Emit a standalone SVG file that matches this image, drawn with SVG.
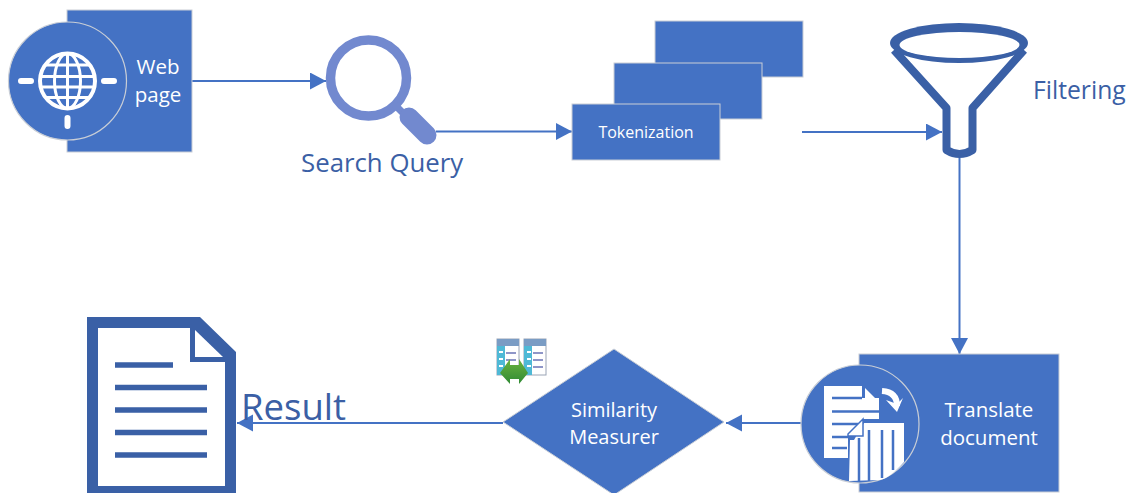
<svg xmlns="http://www.w3.org/2000/svg" width="1130" height="493" viewBox="0 0 1130 493">
<defs>
<marker id="arr" markerUnits="userSpaceOnUse" markerWidth="16" markerHeight="18" refX="16" refY="8.5" orient="auto"><path d="M0 0L16 8.500L0 17Z" fill="#4472c4"/></marker>
<linearGradient id="gr" x1="0" y1="0" x2="0" y2="1"><stop offset="0" stop-color="#6cb33f"/><stop offset="1" stop-color="#2f8a34"/></linearGradient>
</defs>
<style>
text{font-family:"Open Sans","Noto Sans","Liberation Sans",sans-serif}
.box{fill:#4472c4;stroke:#c9ced6;stroke-width:1}
.circ{fill:#4472c4;stroke:#c9ced6;stroke-width:1.2}
.w{fill:#fff;text-anchor:middle}
.d{fill:#3b5fa5}
.conn{fill:none;stroke:#4472c4;stroke-width:2;marker-end:url(#arr)}
.ic{fill:none;stroke:#fff}
.doc{fill:#fff}
.dk{fill:none;stroke:#3a60a6}
.tb{fill:#4fb9d6}
.hd{fill:#7a9cc4}
</style>
<g id="connectors">
<path class="conn" d="M191 81H326"/>
<path class="conn" d="M436 131.500H572"/>
<path class="conn" d="M802 132H942"/>
<path class="conn" d="M959.500 158V354"/>
<path class="conn" d="M802 423H726"/>
<path class="conn" d="M503 423H237"/>
</g>
<g id="node-webpage">
<rect class="box" x="67" y="10" width="125" height="142"/>
<circle class="circ" cx="67.500" cy="81" r="59"/>
<g class="ic" stroke-width="3">
<circle cx="67.500" cy="81" r="27.500" stroke-width="4"/>
<ellipse cx="67.500" cy="81" rx="13" ry="27.500"/>
<path d="M67.500 53.500V108.500M40 76.500H95M40 87H95M45 65H90M45 97.500H90"/>
</g>
<g class="ic" stroke-width="6" stroke-linecap="round">
<path d="M21 81H31M104 81H114M67.500 118V126"/>
</g>
<text class="w" x="158" y="74" font-size="20.500">Web</text>
<text class="w" x="158" y="102" font-size="20.500">page</text>
</g>
<g id="node-search">
<circle cx="368.500" cy="78" r="38" fill="none" stroke="#7289cf" stroke-width="9.500"/>
<path d="M395 105L405 115" stroke="#7289cf" stroke-width="7" fill="none"/>
<path d="M409 117L427 135" stroke="#7289cf" stroke-width="19" stroke-linecap="round" fill="none"/>
<text class="d" x="301" y="172" font-size="25.800">Search Query</text>
</g>
<g id="node-tokenization">
<rect class="box" x="655" y="21" width="148" height="56"/>
<rect class="box" x="614" y="63" width="148" height="56"/>
<rect class="box" x="572" y="104" width="148" height="56"/>
<text class="w" x="646" y="138" font-size="16">Tokenization</text>
</g>
<g id="node-filtering">
<path class="dk" stroke-width="8" stroke-linejoin="round" d="M894 50L946.500 108V150Q959.500 158 972.500 150V108L1024 50"/>
<ellipse cx="959" cy="43" rx="69" ry="20" fill="#3a60a6"/>
<ellipse cx="959.500" cy="45" rx="60" ry="13" fill="#fff"/>
<text class="d" x="1033" y="99" font-size="24.700">Filtering</text>
</g>
<g id="node-translate">
<rect class="box" x="859" y="354" width="200" height="138"/>
<circle class="circ" cx="860" cy="424" r="59"/>
<path class="doc" d="M824 386H862V398H879V419H863L848 434V458H824Z"/>
<path d="M832 398H862M832 411.500H879M832 424H858M832 437H849M832 448H847" stroke="#4472c4" stroke-width="2.500"/>
<path class="doc" d="M865 388L877 400H865Z"/>
<path class="doc" d="M850 440H854L864 423H904V462Q890 478 880 480L849 481Z"/>
<path d="M859 438V481M869 430V481M882 430V478M893 430V470" stroke="#4472c4" stroke-width="2.500"/>
<path class="doc" stroke="#4472c4" stroke-width="1.500" d="M848 434L863 419V436H848Z"/>
<path d="M882 391Q897 392 897 406" fill="none" stroke="#fff" stroke-width="6"/>
<path class="doc" d="M886 400L897 412L903 398L897 404Z"/>
<text class="w" x="989" y="417" font-size="20.500">Translate</text>
<text class="w" x="989" y="445" font-size="20.500">document</text>
</g>
<g id="node-similarity">
<path fill="#4472c4" stroke="#c9ced6" d="M614 349L724 422L614 495L503 422Z"/>
<text class="w" x="614" y="417" font-size="20">Similarity</text>
<text class="w" x="614" y="444" font-size="20">Measurer</text>
<rect x="497" y="339" width="22" height="36" fill="#fff" stroke="#9aa4b5"/>
<rect x="497" y="339" width="22" height="7" class="hd"/>
<rect x="497" y="346" width="8" height="29" class="tb"/>
<path d="M499 352H503M499 359H503M499 366H503" stroke="#fff" stroke-width="2"/>
<path d="M506 353H516M506 360H516" stroke="#8f96c8" stroke-width="2"/>
<rect x="524" y="339" width="22" height="36" fill="#fff" stroke="#9aa4b5"/>
<rect x="524" y="339" width="22" height="7" class="hd"/>
<rect x="524" y="346" width="8" height="29" class="tb"/>
<path d="M527 352H531M527 359H531M527 366H531" stroke="#fff" stroke-width="2"/>
<path d="M533 353H543M533 360H543M533 367H543" stroke="#8f96c8" stroke-width="2"/>
<path fill="url(#gr)" d="M500 373L510 359V365H519V359L528 373L519 384V379H510V384Z"/>
</g>
<g id="node-result">
<path fill="#3a60a6" fill-rule="evenodd" d="M87 317H200L236 352V493H87ZM98 328V486H225V362H190V328Z"/>
<path class="doc" d="M195 330L223 357H195Z"/>
<path d="M115 365H173M115 387.500H207M115 410H207M115 432.500H207M115 455H207" stroke="#3a60a6" stroke-width="5.500"/>
<text class="d" x="241" y="420" font-size="36.500">Result</text>
</g>
</svg>
